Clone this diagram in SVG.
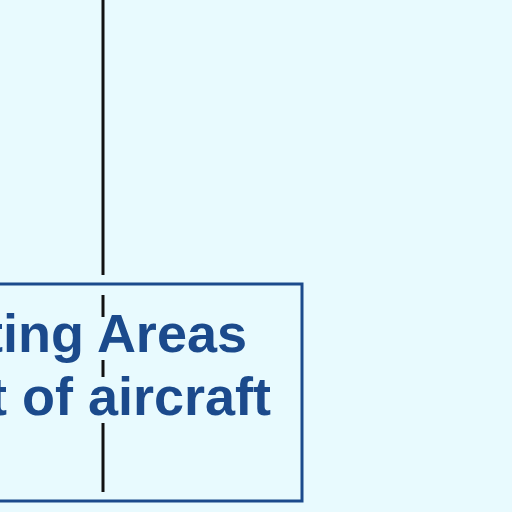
<svg xmlns="http://www.w3.org/2000/svg" width="512" height="512" viewBox="0 0 512 512">
<style>
.lbl{font-family:"Liberation Sans",Arial,sans-serif;font-weight:bold;font-size:54px;fill:#1b4a8c}
.box{fill:none;stroke:#1b4a8c;stroke-width:3}
.conn{stroke:#111;stroke-width:3;fill:none}
</style>
<rect width="512" height="512" fill="#e8fafe"/>
<g id="connectors">
<line class="conn" x1="103" y1="0" x2="103" y2="275"/>
<line class="conn" x1="103" y1="295" x2="103" y2="317"/>
<line class="conn" x1="103" y1="360" x2="103" y2="377"/>
<line class="conn" x1="103" y1="423" x2="103" y2="492"/>
</g>
<g id="node-areas">
<rect class="box" x="-10" y="284" width="312" height="217"/>
<text class="lbl" x="247" y="352" text-anchor="end">ting Areas</text>
<text class="lbl" x="271" y="415" text-anchor="end">t of aircraft</text>
</g>
</svg>
